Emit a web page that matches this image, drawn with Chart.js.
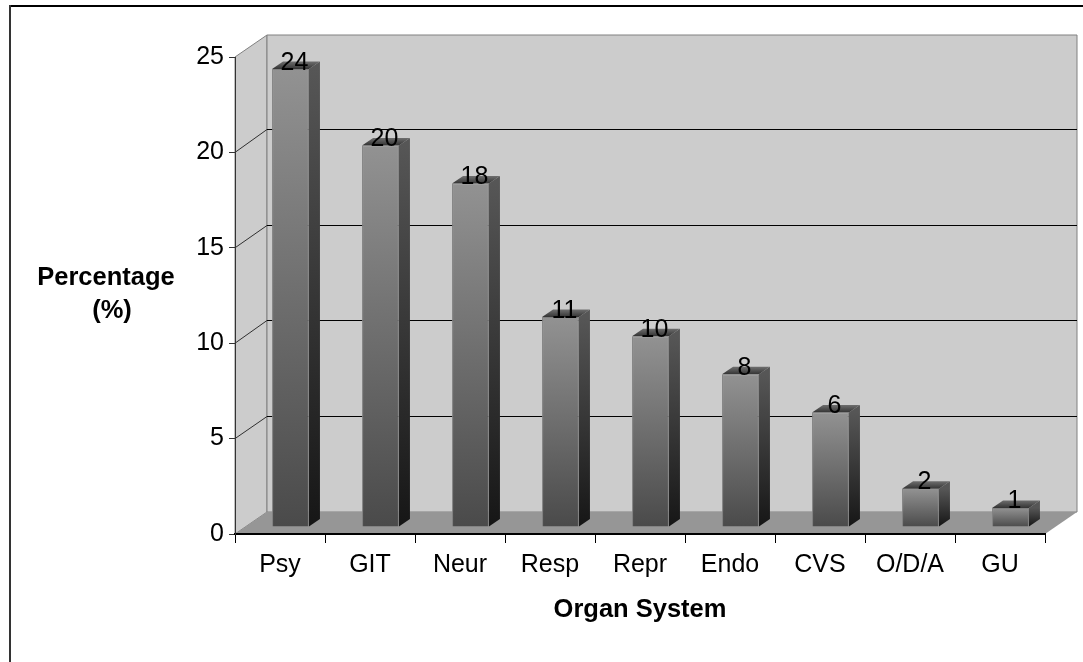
<!DOCTYPE html>
<html>
<head>
<meta charset="utf-8">
<style>
  html, body { margin: 0; padding: 0; background: #fff; }
  #wrap { width: 1083px; height: 662px; }
</style>
<script src="https://cdn.jsdelivr.net/npm/chart.js@4/dist/chart.umd.min.js"></script>
</head>
<body>
<div id="wrap"><canvas id="chart" width="1083" height="662"></canvas></div>
<script>
const categories = ["Psy", "GIT", "Neur", "Resp", "Repr", "Endo", "CVS", "O/D/A", "GU"];
const percentages = [24, 20, 18, 11, 10, 8, 6, 2, 1];
const yTicks = [0, 5, 10, 15, 20, 25];
const yTitleLines = ["Percentage", "(%)"];
const xTitle = "Organ System";

const FONT = '"Liberation Sans", Arial, sans-serif';
const FONT_SIZE = 25;
const TITLE_SIZE = 25.5;

// 3D look: wall depth and how far bars sit inside the floor
const WALL_DX = 32;
const WALL_DY = -22;
const BACK_SCALE = 1.0037;
const BAR_DX = 10.5;
const BAR_DY = -7;
const SIDE_DX = 11;
const SIDE_DY = -7.5;

function vGrad(ctx, top, bottom, c1, c2) {
  const g = ctx.createLinearGradient(0, top, 0, bottom);
  g.addColorStop(0, c1);
  g.addColorStop(1, c2);
  return g;
}

function poly(ctx, pts, fill, stroke) {
  ctx.beginPath();
  pts.forEach((p, i) => (i ? ctx.lineTo(p[0], p[1]) : ctx.moveTo(p[0], p[1])));
  ctx.closePath();
  if (fill) {
    ctx.fillStyle = fill;
    ctx.fill();
  }
  if (stroke) {
    ctx.strokeStyle = stroke;
    ctx.lineWidth = 1;
    ctx.stroke();
  }
}

const frame3d = {
  id: "frame3d",
  beforeDraw(chart) {
    const { ctx, chartArea: a, scales } = chart;
    const y = scales.y;
    ctx.save();

    // outer frame, only top and left show
    ctx.fillStyle = "#000";
    ctx.fillRect(9, 5, 1074, 2);
    ctx.fillStyle = "#333";
    ctx.fillRect(9, 5, 2, 657);

    const backTop = a.top + WALL_DY;
    const backBottom = a.bottom + WALL_DY;
    const backLeft = a.left + WALL_DX;
    const backRight = a.right + WALL_DX;

    poly(ctx, [[a.left, a.top], [backLeft, backTop], [backLeft, backBottom], [a.left, a.bottom]], "#cccccc", "#808080");
    poly(ctx, [[backLeft, backTop], [backRight, backTop], [backRight, backBottom], [backLeft, backBottom]], "#cccccc", "#808080");
    poly(ctx, [[a.left, a.bottom], [a.right, a.bottom], [backRight, backBottom], [backLeft, backBottom]], "#969696", null);

    yTicks.forEach((v) => {
      if (v === 0 || v === 25) return;
      const py = y.getPixelForValue(v);
      const backY = Math.round(backBottom - (a.bottom - py) * BACK_SCALE) + 0.5;
      ctx.strokeStyle = "#303030";
      ctx.lineWidth = 1;
      ctx.beginPath();
      ctx.moveTo(a.left, py);
      ctx.lineTo(backLeft, backY);
      ctx.stroke();
      ctx.strokeStyle = "#000";
      ctx.beginPath();
      ctx.moveTo(backLeft, backY);
      ctx.lineTo(backRight, backY);
      ctx.stroke();
    });

    // y title stays horizontal, the scale title would rotate it
    ctx.fillStyle = "#000";
    ctx.font = `bold ${TITLE_SIZE}px ${FONT}`;
    ctx.textAlign = "center";
    ctx.textBaseline = "alphabetic";
    ctx.fillText(yTitleLines[0], 106, 285);
    ctx.fillText(yTitleLines[1], 112, 318);
    ctx.restore();
  },
  beforeDatasetDraw(chart) {
    const { ctx } = chart;
    ctx.save();
    // side and top faces, behind the front face
    chart.getDatasetMeta(0).data.forEach((bar) => {
      const l = bar.x - bar.width / 2 + BAR_DX;
      const r = bar.x + bar.width / 2 + BAR_DX;
      const t = bar.y + BAR_DY;
      const b = bar.base + BAR_DY;
      poly(ctx, [[r, t], [r + SIDE_DX, t + SIDE_DY], [r + SIDE_DX, b + SIDE_DY], [r, b]],
        vGrad(ctx, t, b, "#565656", "#161616"), null);
      poly(ctx, [[l, t], [r, t], [r + SIDE_DX, t + SIDE_DY], [l + SIDE_DX, t + SIDE_DY]],
        vGrad(ctx, t + SIDE_DY, t, "#6e6e6e", "#333333"), null);
    });
    ctx.restore();
    ctx.save();
    ctx.translate(BAR_DX, BAR_DY);
  },
  afterDatasetDraw(chart) {
    chart.ctx.restore();
  },
  afterDatasetsDraw(chart) {
    const { ctx } = chart;
    ctx.save();
    ctx.fillStyle = "#000";
    ctx.font = `${FONT_SIZE}px ${FONT}`;
    ctx.textAlign = "center";
    ctx.textBaseline = "alphabetic";
    chart.getDatasetMeta(0).data.forEach((bar, i) => {
      ctx.fillText(String(percentages[i]), bar.x + BAR_DX + 4, bar.y + BAR_DY + 0.5);
    });
    ctx.restore();
  },
};

new Chart(document.getElementById("chart"), {
  type: "bar",
  data: {
    labels: categories,
    datasets: [
      {
        data: percentages,
        barPercentage: 0.41,
        categoryPercentage: 1,
        borderWidth: 1,
        borderColor: "#808080",
        backgroundColor(c) {
          const y = c.chart.scales.y;
          const top = y ? y.getPixelForValue(c.raw ?? 0) : NaN;
          const bottom = y ? y.getPixelForValue(0) : NaN;
          // scales have no size yet on the first resolve
          if (!Number.isFinite(top) || !Number.isFinite(bottom)) return "#6e6e6e";
          return vGrad(c.chart.ctx, top, bottom, "#929292", "#4a4a4a");
        },
      },
    ],
  },
  options: {
    responsive: false,
    animation: false,
    layout: { padding: { top: 57, right: 38, bottom: 0, left: 0 } },
    plugins: {
      legend: { display: false },
      tooltip: { enabled: false },
    },
    scales: {
      x: {
        offset: true,
        grid: { drawOnChartArea: false, tickLength: 9, color: "#000", offset: true },
        border: { color: "#000", width: 2 },
        ticks: { color: "#000", font: { family: FONT, size: FONT_SIZE }, padding: 7, maxRotation: 0 },
        title: {
          display: true,
          text: xTitle,
          color: "#000",
          font: { family: FONT, size: TITLE_SIZE, weight: "bold" },
          padding: { top: 0, bottom: 37 },
        },
        afterFit(scale) {
          scale.height = 128;
        },
      },
      y: {
        min: 0,
        max: 25,
        ticks: {
          stepSize: 5,
          color: "#000",
          font: { family: FONT, size: FONT_SIZE },
          padding: 5,
        },
        grid: { drawOnChartArea: false, tickLength: 6, color: "#333" },
        border: { color: "#333", width: 1 },
        afterFit(scale) {
          scale.width = 235;
        },
      },
    },
  },
  plugins: [frame3d],
});
</script>
</body>
</html>
